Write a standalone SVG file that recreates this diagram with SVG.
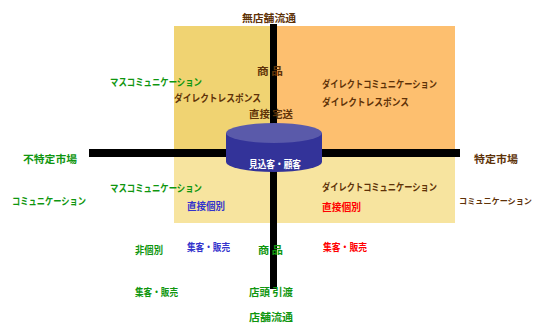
<svg xmlns="http://www.w3.org/2000/svg" width="537" height="325" viewBox="0 0 537 325">
<style>
text{font-family:"Noto Sans CJK JP","Noto Sans",sans-serif;font-size:10px;font-weight:bold;dominant-baseline:central}
.br{fill:#5E3208}.gr{fill:#0F960F}.bl{fill:#3333CC}.rd{fill:#FF0000}.wh{fill:#FFFFFF}
</style>
<g id="quadrants">
<rect x="174" y="26" width="99" height="127" fill="#F0D372"/>
<rect x="273" y="26" width="182" height="127" fill="#FDBF6F"/>
<rect x="174" y="153" width="281" height="70" fill="#F7E49F"/>
</g>
<g id="connectors">
<rect x="270" y="24" width="7" height="265" fill="#000"/>
<rect x="89" y="149" width="371" height="8" fill="#000"/>
</g>
<g id="cylinder">
<path d="M226,133 L226,162 A48,10 0 0 0 322,162 L322,133 Z" fill="#333399"/>
<ellipse cx="274" cy="133" rx="48" ry="10" fill="#5A5AAA"/>
<text class="wh" x="249" y="163" textLength="52" lengthAdjust="spacingAndGlyphs">見込客・顧客</text>
</g>
<g id="labels">
<text class="br" x="242" y="17" textLength="54" lengthAdjust="spacingAndGlyphs">無店舗流通</text>
<text class="br" x="257" y="70" textLength="26" lengthAdjust="spacingAndGlyphs">商 品</text>
<text class="br" x="249" y="113" textLength="44" lengthAdjust="spacingAndGlyphs">直接 宅送</text>
<text class="gr" x="110" y="81" textLength="92" lengthAdjust="spacingAndGlyphs">マスコミュニケーション</text>
<text class="br" x="174" y="97" textLength="87" lengthAdjust="spacingAndGlyphs">ダイレクトレスポンス</text>
<text class="br" x="322" y="83" textLength="115" lengthAdjust="spacingAndGlyphs">ダイレクトコミュニケーション</text>
<text class="br" x="322" y="101" textLength="87" lengthAdjust="spacingAndGlyphs">ダイレクトレスポンス</text>
<text class="gr" x="23" y="158" textLength="54" lengthAdjust="spacingAndGlyphs">不特定市場</text>
<text class="br" x="474" y="158" textLength="44" lengthAdjust="spacingAndGlyphs">特定市場</text>
<text class="gr" x="12" y="200" textLength="74" lengthAdjust="spacingAndGlyphs">コミュニケーション</text>
<text class="gr" x="110" y="187" textLength="92" lengthAdjust="spacingAndGlyphs">マスコミュニケーション</text>
<text class="bl" x="187" y="205" textLength="38" lengthAdjust="spacingAndGlyphs">直接個別</text>
<text class="br" x="322" y="186" textLength="115" lengthAdjust="spacingAndGlyphs">ダイレクトコミュニケーション</text>
<text class="rd" x="322" y="206" textLength="39" lengthAdjust="spacingAndGlyphs">直接個別</text>
<text class="br" x="459" y="200" style="font-size:8px" textLength="73" lengthAdjust="spacingAndGlyphs">コミュニケーション</text>
<text class="gr" x="135" y="249" textLength="28" lengthAdjust="spacingAndGlyphs">非個別</text>
<text class="bl" x="187" y="246" textLength="43" lengthAdjust="spacingAndGlyphs">集客・販売</text>
<text class="gr" x="258" y="249" textLength="25" lengthAdjust="spacingAndGlyphs">商 品</text>
<text class="rd" x="323" y="246" textLength="44" lengthAdjust="spacingAndGlyphs">集客・販売</text>
<text class="gr" x="135" y="291" textLength="43" lengthAdjust="spacingAndGlyphs">集客・販売</text>
<text class="gr" x="249" y="291" textLength="44" lengthAdjust="spacingAndGlyphs">店頭 引渡</text>
<text class="gr" x="249" y="316" textLength="44" lengthAdjust="spacingAndGlyphs">店舗流通</text>
</g>
</svg>
